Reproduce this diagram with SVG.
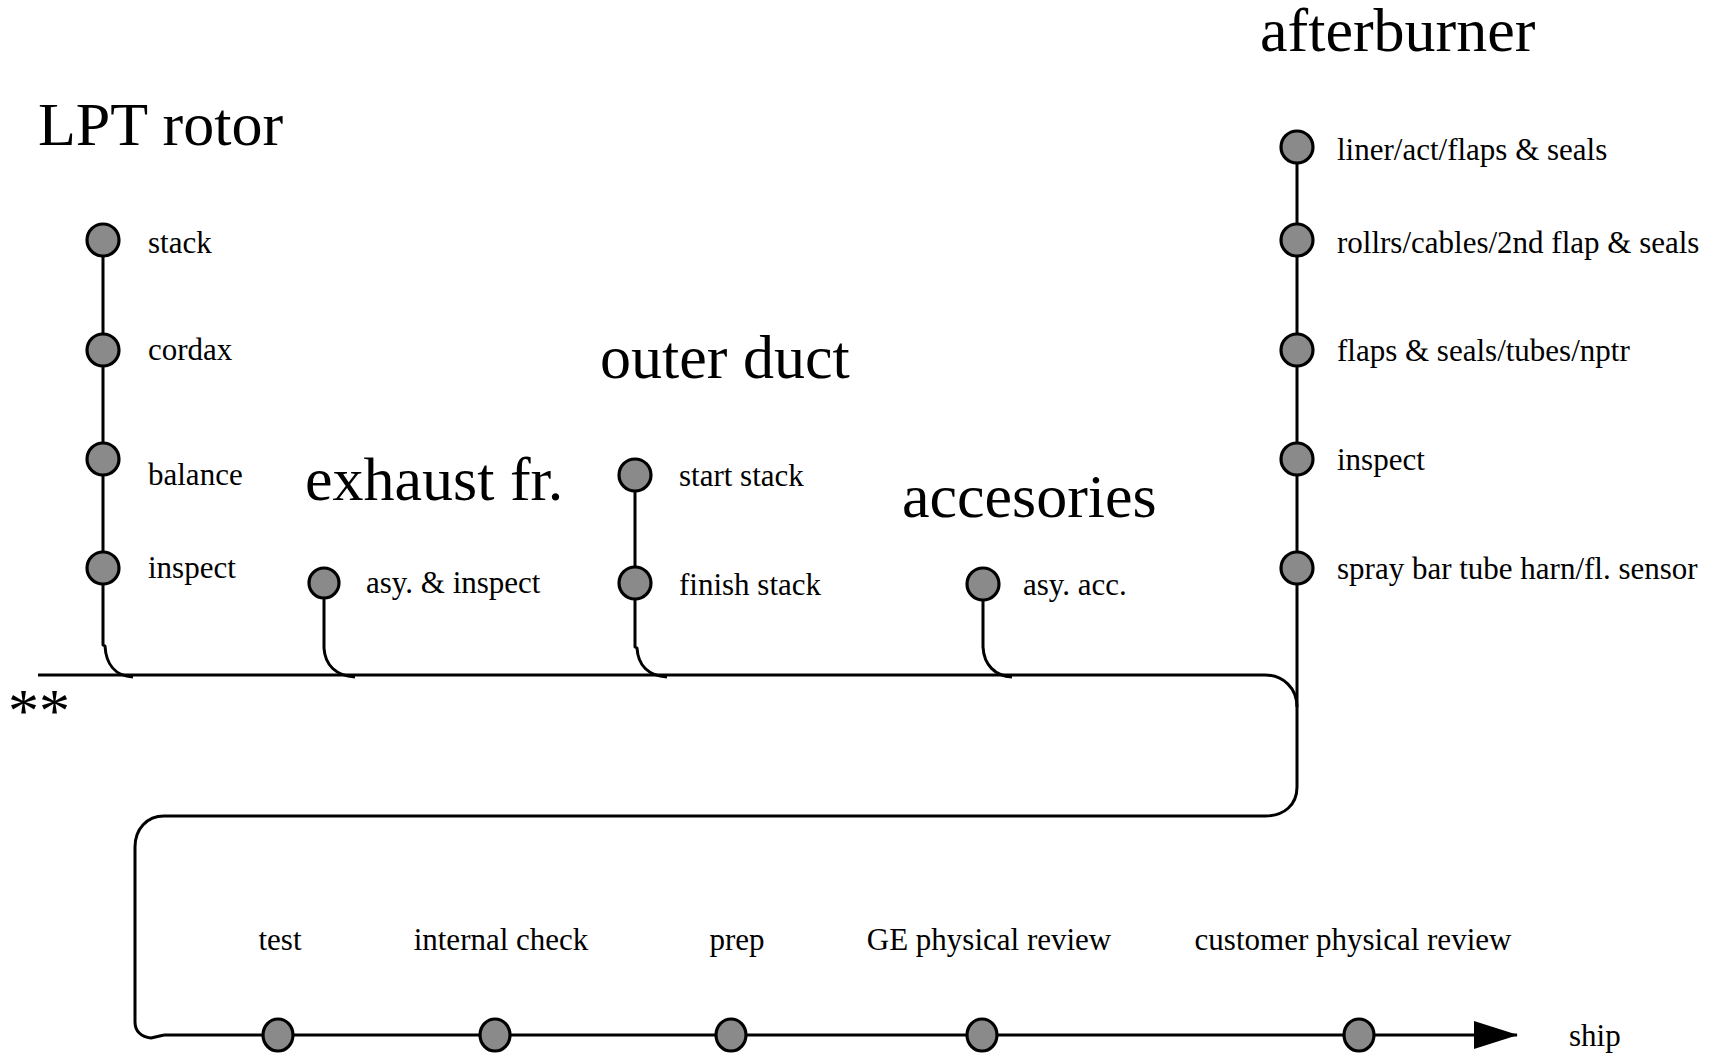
<svg xmlns="http://www.w3.org/2000/svg" width="1718" height="1056" viewBox="0 0 1718 1056">
  <style>
    .title { font-family: "Liberation Serif", "Times New Roman", serif; font-size: 62px; fill: #000; }
    .lbl { font-family: "Liberation Serif", "Times New Roman", serif; font-size: 31px; fill: #000; }
    .mid { text-anchor: middle; }
    .wire { fill: none; stroke: #000; stroke-width: 3; stroke-linejoin: round; }
    .dot { fill: #8a8a8a; stroke: #000; stroke-width: 3.2; }
  </style>
  <defs>
    <marker id="arrow" markerUnits="userSpaceOnUse" markerWidth="44" markerHeight="28" refX="43" refY="14" orient="auto">
      <path d="M0,0 L44,14 L0,28 Z" fill="#000"/>
    </marker>
  </defs>

  <rect width="1718" height="1056" fill="#fff"/>

  <!-- connectors -->
  <g id="connectors">
    <!-- main assembly line -->
    <path class="wire" d="M38,675 H1265 C1283,675 1297,688 1297,707"/>
    <!-- LPT rotor column -->
    <path class="wire" d="M103,240 V645 L105,646 C106,664 115,676 133,677"/>
    <!-- exhaust frame stem -->
    <path class="wire" d="M324,583 V648 C325,665 336,676 355,677"/>
    <!-- outer duct column -->
    <path class="wire" d="M635,475 V647 L637,648 C638,665 648,676 667,677"/>
    <!-- accessories stem -->
    <path class="wire" d="M983,584 V647 C984,665 995,676 1012,677"/>
    <!-- afterburner column, return loop and final line to ship -->
    <path class="wire" d="M1297,147 V787 C1297,805 1284,816 1265,816 H164 C147,816 135,829 135,847 V1022 C135,1031 141,1037 151,1038 L164,1035" />
    <path class="wire" d="M164,1035 H1517" marker-end="url(#arrow)"/>
  </g>

  <!-- LPT rotor -->
  <g id="lpt-rotor">
    <text class="title" x="38" y="145">LPT rotor</text>
    <circle class="dot" cx="103" cy="240" r="16"/>
    <circle class="dot" cx="103" cy="350" r="16"/>
    <circle class="dot" cx="103" cy="459" r="16"/>
    <circle class="dot" cx="103" cy="568" r="16"/>
    <text class="lbl" x="148" y="253">stack</text>
    <text class="lbl" x="148" y="360">cordax</text>
    <text class="lbl" x="148" y="485">balance</text>
    <text class="lbl" x="148" y="578">inspect</text>
  </g>

  <!-- exhaust frame -->
  <g id="exhaust-fr">
    <text class="title" x="305" y="500">exhaust fr.</text>
    <circle class="dot" cx="324" cy="583" r="15"/>
    <text class="lbl" x="366" y="593">asy. &amp; inspect</text>
  </g>

  <!-- outer duct -->
  <g id="outer-duct">
    <text class="title" x="600" y="378">outer duct</text>
    <circle class="dot" cx="635" cy="475" r="16"/>
    <circle class="dot" cx="635" cy="583" r="16"/>
    <text class="lbl" x="679" y="486">start stack</text>
    <text class="lbl" x="679" y="595">finish stack</text>
  </g>

  <!-- accessories -->
  <g id="accesories">
    <text class="title" x="902" y="517">accesories</text>
    <circle class="dot" cx="983" cy="584" r="16"/>
    <text class="lbl" x="1023" y="595">asy. acc.</text>
  </g>

  <!-- afterburner -->
  <g id="afterburner">
    <text class="title" x="1260" y="51">afterburner</text>
    <circle class="dot" cx="1297" cy="147" r="16"/>
    <circle class="dot" cx="1297" cy="240" r="16"/>
    <circle class="dot" cx="1297" cy="350" r="16"/>
    <circle class="dot" cx="1297" cy="459" r="16"/>
    <circle class="dot" cx="1297" cy="568" r="16"/>
    <text class="lbl" x="1337" y="160">liner/act/flaps &amp; seals</text>
    <text class="lbl" x="1337" y="253">rollrs/cables/2nd flap &amp; seals</text>
    <text class="lbl" x="1337" y="361">flaps &amp; seals/tubes/nptr</text>
    <text class="lbl" x="1337" y="470">inspect</text>
    <text class="lbl" x="1337" y="579">spray bar tube harn/fl. sensor</text>
  </g>

  <!-- start marker -->
  <g id="start-mark">
    <text class="title" x="8" y="731">**</text>
  </g>

  <!-- final steps -->
  <g id="test">
    <ellipse class="dot" cx="278" cy="1035" rx="15" ry="16"/>
    <text class="lbl mid" x="280" y="950">test</text>
  </g>
  <g id="internal-check">
    <ellipse class="dot" cx="495" cy="1035" rx="15" ry="16"/>
    <text class="lbl mid" x="501" y="950">internal check</text>
  </g>
  <g id="prep">
    <ellipse class="dot" cx="731" cy="1035" rx="15" ry="16"/>
    <text class="lbl mid" x="737" y="950">prep</text>
  </g>
  <g id="ge-physical-review">
    <ellipse class="dot" cx="982" cy="1035" rx="15" ry="16"/>
    <text class="lbl mid" x="989" y="950">GE physical review</text>
  </g>
  <g id="customer-physical-review">
    <ellipse class="dot" cx="1359" cy="1035" rx="15" ry="16"/>
    <text class="lbl mid" x="1353" y="950">customer physical review</text>
  </g>
  <g id="ship">
    <text class="lbl" x="1569" y="1046">ship</text>
  </g>
</svg>
